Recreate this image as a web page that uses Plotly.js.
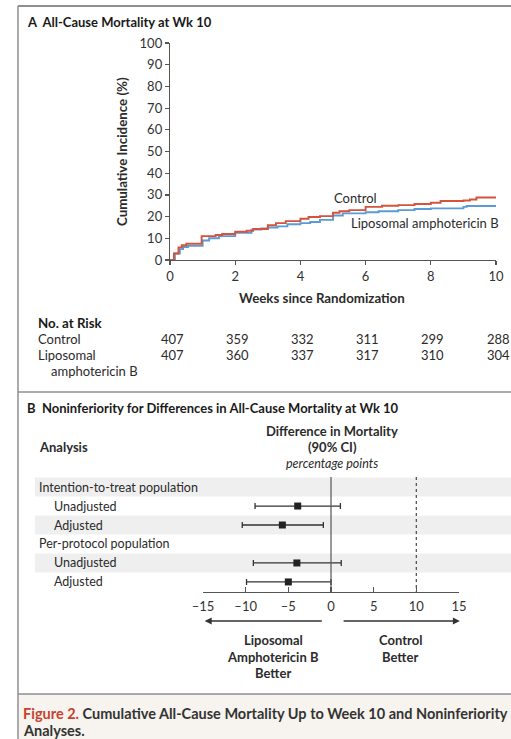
<!DOCTYPE html>
<html>
<head>
<meta charset="utf-8">
<script src="https://cdn.plot.ly/plotly-3.0.1.min.js"></script>
<style>html,body{margin:0;padding:0;background:#fff;}#chart{width:511px;height:739px;}</style>
</head>
<body>
<div id="chart"></div>
<script>
// ---------- Panel A data (Kaplan-Meier style cumulative incidence) ----------
const ctrlWeeks = [0, 0.12, 0.26, 0.36, 0.5, 0.97, 1.4, 1.6, 2.0, 2.35, 2.55, 3.0, 3.25, 3.55, 4.0, 4.25, 4.6, 5.0, 5.2, 5.5, 6.0, 6.5, 7.0, 7.5, 8.0, 8.3, 9.0, 9.2, 9.4, 10.0];
const ctrlPct   = [0, 3.0, 5.8, 6.8, 7.5, 11.0, 11.5, 12.0, 13.0, 13.5, 14.3, 16.0, 17.0, 17.9, 19.0, 19.8, 20.2, 21.8, 22.5, 23.0, 24.5, 25.0, 25.3, 25.8, 26.4, 27.2, 27.4, 27.9, 28.8, 28.8];
const lipoWeeks = [0, 0.06, 0.15, 0.3, 0.4, 0.55, 1.0, 1.2, 1.5, 2.0, 2.5, 2.8, 3.0, 3.3, 3.6, 4.0, 4.3, 4.6, 5.0, 5.3, 6.0, 6.4, 7.0, 7.5, 8.0, 9.0, 9.1, 10.0];
const lipoPct   = [0, 0, 3.0, 5.0, 6.0, 6.5, 9.0, 10.0, 11.0, 12.5, 14.0, 14.5, 15.0, 15.5, 16.5, 17.0, 17.5, 18.5, 20.5, 21.5, 22.0, 22.5, 23.0, 23.5, 23.8, 24.5, 24.9, 24.9];
const kmTicks = [0, 2, 4, 6, 8, 10];
const yTicks = [0, 10, 20, 30, 40, 50, 60, 70, 80, 90, 100];
const riskCtrl = [407, 359, 332, 311, 299, 288];
const riskLipo = [407, 360, 337, 317, 310, 304];

// ---------- Panel B data (forest plot) ----------
const rowLabels = ["Intention-to-treat population", "Unadjusted", "Adjusted", "Per-protocol population", "Unadjusted", "Adjusted"];
const rowIndent = [false, true, true, false, true, true];
const estRows = [1, 2, 4, 5];
const estVal  = [-3.9, -5.7, -4.0, -5.0];
const ciLow   = [-8.9, -10.4, -9.1, -9.9];
const ciHigh  = [1.1, -0.9, 1.2, 0.0];
const forestTicks = [-15, -10, -5, 0, 5, 10, 15];
const forestTickText = ["\u201315", "\u201310", "\u20135", "0", "5", "10", "15"];
const nonInfMargin = 10;

// ---------- layout helpers ----------
const W = 511, H = 739;
const px = v => v / W;
const py = v => 1 - v / H;
const FONT = 'Lato, "Open Sans", sans-serif';
const TXT = '#2b2b2b';
const RED = '#d4533d', BLUE = '#5b9bd5';
const FS = 13;

const traces = [
  {x: lipoWeeks, y: lipoPct, xaxis: 'x', yaxis: 'y', mode: 'lines', line: {shape: 'hv', color: BLUE, width: 1.9}, hoverinfo: 'skip'},
  {x: ctrlWeeks, y: ctrlPct, xaxis: 'x', yaxis: 'y', mode: 'lines', line: {shape: 'hv', color: RED, width: 1.9}, hoverinfo: 'skip'},
  {x: estVal, y: estRows, xaxis: 'x2', yaxis: 'y2', mode: 'markers',
   marker: {symbol: 'square', size: 7, color: '#222'},
   error_x: {type: 'data', symmetric: false,
             array: estVal.map((e, i) => ciHigh[i] - e),
             arrayminus: estVal.map((e, i) => e - ciLow[i]),
             color: '#333', thickness: 1.3, width: 3},
   hoverinfo: 'skip'}
];

const ann = [];
function text(t, x, y, opt) {
  ann.push(Object.assign({text: t, x: px(x), y: py(y), xref: 'paper', yref: 'paper', showarrow: false,
    xanchor: 'left', yanchor: 'middle', font: {family: FONT, size: FS, color: TXT}}, opt || {}));
}
// Panel A titles
text('<b>A  All-Cause Mortality at Wk 10</b>', 25, 22, {font: {family: FONT, size: 13, color: '#1a1a1a'}});
text('<b>Cumulative Incidence (%)</b>', 122, 152, {xanchor: 'center', textangle: -90, font: {family: FONT, size: 13.3, color: TXT}});
text('<b>Weeks since Randomization</b>', 322, 298, {xanchor: 'center', font: {family: FONT, size: 13.3, color: TXT}});
text('Control', 355, 198, {xanchor: 'center'});
text('Liposomal amphotericin B', 425, 223, {xanchor: 'center'});
// No. at risk
text('<b>No. at Risk</b>', 36, 323, {font: {family: FONT, size: 13.3, color: '#1a1a1a'}});
text('Control', 36, 339);
text('Liposomal', 36, 355);
text('amphotericin B', 49, 371);
kmTicks.forEach((w, i) => {
  ann.push({text: String(riskCtrl[i]), x: w, y: py(339), xref: 'x', yref: 'paper', showarrow: false, xanchor: 'center', yanchor: 'middle', xshift: 2, font: {family: FONT, size: FS, color: TXT}});
  ann.push({text: String(riskLipo[i]), x: w, y: py(355), xref: 'x', yref: 'paper', showarrow: false, xanchor: 'center', yanchor: 'middle', xshift: 2, font: {family: FONT, size: FS, color: TXT}});
});
// Panel B titles
text('<b>B  Noninferiority for Differences in All-Cause Mortality at Wk 10</b>', 25, 408, {font: {family: FONT, size: 13, color: '#1a1a1a'}});
text('<b>Difference in Mortality</b>', 332, 431, {xanchor: 'center'});
text('<b>(90% CI)</b>', 332, 447, {xanchor: 'center'});
text('<i>percentage points</i>', 332, 463, {xanchor: 'center', font: {family: FONT, size: 12.5, color: TXT}});
text('<b>Analysis</b>', 37, 447);
rowLabels.forEach((l, k) => {
  ann.push({text: l, x: px(rowIndent[k] ? 52 : 37), y: k, xref: 'paper', yref: 'y2', showarrow: false,
    xanchor: 'left', yanchor: 'middle', font: {family: FONT, size: 12.5, color: TXT}});
});
// direction arrows
ann.push({x: -14.8, y: py(621), xref: 'x2', yref: 'paper', ax: -0.9, ay: py(621), axref: 'x2', ayref: 'paper',
  showarrow: true, arrowhead: 2, arrowsize: 1, arrowwidth: 1.4, arrowcolor: '#333', text: ''});
ann.push({x: 15.1, y: py(621), xref: 'x2', yref: 'paper', ax: 1.3, ay: py(621), axref: 'x2', ayref: 'paper',
  showarrow: true, arrowhead: 2, arrowsize: 1, arrowwidth: 1.4, arrowcolor: '#333', text: ''});
text('<b>Liposomal</b>', 273, 640, {xanchor: 'center'});
text('<b>Amphotericin B</b>', 273, 657, {xanchor: 'center'});
text('<b>Better</b>', 273, 673, {xanchor: 'center'});
text('<b>Control</b>', 400, 640, {xanchor: 'center'});
text('<b>Better</b>', 400, 657, {xanchor: 'center'});
// caption
text('<b><span style="color:#c9412f">Figure 2.</span> Cumulative All-Cause Mortality Up to Week 10 and Noninferiority</b>', 21, 713, {font: {family: FONT, size: 14.5, color: '#333'}});
text('<b>Analyses.</b>', 21, 730, {font: {family: FONT, size: 14.5, color: '#333'}});

const shapes = [];
// caption background
shapes.push({type: 'rect', xref: 'paper', yref: 'paper', x0: px(19), x1: 1.01, y0: py(694), y1: -0.01, fillcolor: '#f7f3ee', line: {width: 0}, layer: 'below'});
// row bands
[0, 2, 4].forEach(k => shapes.push({type: 'rect', xref: 'paper', yref: 'y2', x0: px(35), x1: 1.01, y0: k - 0.5, y1: k + 0.5, fillcolor: '#efefef', line: {width: 0}, layer: 'below'}));
// frame
shapes.push({type: 'line', xref: 'paper', yref: 'paper', x0: px(18), x1: 1.01, y0: py(6), y1: py(6), line: {color: '#8f8f8f', width: 2}});
shapes.push({type: 'line', xref: 'paper', yref: 'paper', x0: px(18), x1: px(18), y0: py(6), y1: -0.01, line: {color: '#8f8f8f', width: 1.5}});
shapes.push({type: 'line', xref: 'paper', yref: 'paper', x0: px(18), x1: 1.01, y0: py(392), y1: py(392), line: {color: '#8f8f8f', width: 1.5}});
shapes.push({type: 'line', xref: 'paper', yref: 'paper', x0: px(18), x1: 1.01, y0: py(694), y1: py(694), line: {color: '#8f8f8f', width: 1.5}});
// forest reference lines
shapes.push({type: 'line', xref: 'x2', yref: 'y2', x0: 0, x1: 0, y0: -0.53, y1: 5.53, line: {color: '#555', width: 1.2}});
shapes.push({type: 'line', xref: 'x2', yref: 'y2', x0: nonInfMargin, x1: nonInfMargin, y0: -0.53, y1: 5.53, line: {color: '#555', width: 1.3, dash: 'dot'}});

const axFont = {family: FONT, size: 13, color: '#333'};
const layout = {
  width: W, height: H,
  margin: {l: 0, r: 0, t: 0, b: 0},
  paper_bgcolor: '#fff', plot_bgcolor: 'rgba(0,0,0,0)',
  showlegend: false,
  xaxis: {domain: [px(170), px(496)], range: [0, 10], tickvals: kmTicks, anchor: 'y',
    showline: true, linecolor: '#555', linewidth: 1.2, ticks: 'outside', ticklen: 4, tickcolor: '#555', tickwidth: 1.2,
    showgrid: false, zeroline: false, tickfont: axFont, fixedrange: true},
  yaxis: {domain: [py(260), py(43)], range: [0, 100], tickvals: yTicks, anchor: 'x',
    showline: true, linecolor: '#555', linewidth: 1.2, ticks: 'outside', ticklen: 4, tickcolor: '#555', tickwidth: 1.2,
    showgrid: false, zeroline: false, tickfont: axFont, fixedrange: true},
  xaxis2: {domain: [px(203), px(459)], range: [-15, 15], tickvals: forestTicks, ticktext: forestTickText, anchor: 'y2',
    showline: true, linecolor: '#555', linewidth: 1.2, ticks: 'inside', ticklen: 5, tickcolor: '#555', tickwidth: 1.2,
    showgrid: false, zeroline: false, tickfont: axFont, ticklabelstandoff: 2, fixedrange: true},
  yaxis2: {domain: [py(592), py(477)], range: [5.53, -0.53], anchor: 'x2', visible: false, fixedrange: true},
  annotations: ann,
  shapes: shapes
};
Plotly.newPlot('chart', traces, layout, {displayModeBar: false, staticPlot: true});
</script>
</body>
</html>
